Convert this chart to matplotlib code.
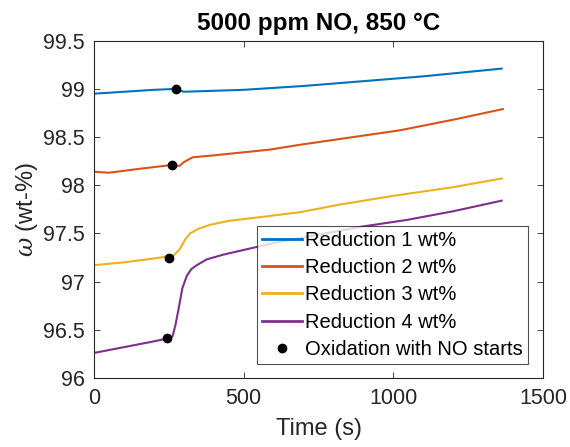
import matplotlib
matplotlib.use("Agg")
import matplotlib.pyplot as plt

plt.rcParams["font.family"] = ["Liberation Sans", "DejaVu Sans"]
plt.rcParams["mathtext.fontset"] = "dejavuserif"

# mass fraction (wt-%) vs time (s) for each reduction level
t1 = [0, 100, 200, 274, 290, 300, 400, 500, 700, 900, 1100, 1362]
w1 = [98.95, 98.97, 98.99, 99.00, 98.98, 98.97, 98.98, 98.99, 99.03, 99.08, 99.13, 99.21]

t2 = [0, 50, 150, 260, 285, 300, 330, 400, 588, 688, 822, 1022, 1200, 1366]
w2 = [98.14, 98.13, 98.17, 98.21, 98.20, 98.24, 98.29, 98.31, 98.37, 98.42, 98.48, 98.57, 98.68, 98.79]

t3 = [0, 100, 200, 265, 285, 305, 321, 350, 388, 450, 531, 688, 822, 1000, 1200, 1362]
w3 = [97.17, 97.20, 97.24, 97.27, 97.33, 97.44, 97.50, 97.55, 97.59, 97.63, 97.66, 97.72, 97.80, 97.89, 97.98, 98.07]

t4 = [0, 100, 200, 245, 262, 272, 282, 295, 310, 325, 343, 376, 432, 488, 600, 894, 1045, 1200, 1362]
w4 = [96.26, 96.32, 96.38, 96.41, 96.43, 96.55, 96.71, 96.93, 97.06, 97.13, 97.17, 97.23, 97.28, 97.32, 97.40, 97.57, 97.64, 97.73, 97.84]

# start of NO oxidation on each curve
t_ox = [274, 260, 252, 245]
w_ox = [99.00, 98.21, 97.24, 96.41]

labels = ["Reduction 1 wt%", "Reduction 2 wt%", "Reduction 3 wt%", "Reduction 4 wt%"]
colors = ["#0072BD", "#D95319", "#EDB120", "#7E2F8E"]
series = [(t1, w1), (t2, w2), (t3, w3), (t4, w4)]

axis_color = "#262626"

fig = plt.figure(figsize=(5.7, 4.47), dpi=100)
ax = fig.add_axes([0.165, 0.1544, 0.7876, 0.7546])

for (t, w), c, lab in zip(series, colors, labels):
    ax.plot(t, w, color=c, linewidth=1.5, label=lab)
ax.plot(t_ox, w_ox, "o", color="black", markersize=6, linestyle="none",
        label="Oxidation with NO starts")

ax.set_xlim(0, 1500)
ax.set_ylim(96, 99.5)
ax.set_xticks([0, 500, 1000, 1500])
ax.set_yticks([96, 96.5, 97, 97.5, 98, 98.5, 99, 99.5])
ax.set_yticklabels(["96", "96.5", "97", "97.5", "98", "98.5", "99", "99.5"])

ax.tick_params(direction="in", top=True, right=True, length=4, width=0.6,
               colors=axis_color, labelsize=15.5)
ax.tick_params(axis="x", pad=7)
ax.tick_params(axis="y", pad=6.5)
for sp in ax.spines.values():
    sp.set_color(axis_color)
    sp.set_linewidth(0.8)

ax.set_title("5000 ppm NO, 850 °C", fontsize=17.5, fontweight="bold", pad=8)
ax.set_xlabel("Time (s)", fontsize=17, color=axis_color, labelpad=7)
ax.set_ylabel(r"$\omega$ (wt-%)", fontsize=17, color=axis_color, labelpad=2)

leg = ax.legend(loc="lower right", bbox_to_anchor=(0.967, 0.0415), fontsize=14.5,
                frameon=True, fancybox=False, edgecolor=axis_color,
                handlelength=2.0, handletextpad=0.15, labelspacing=0.41,
                borderpad=0.25, borderaxespad=0)
leg.get_frame().set_linewidth(0.8)
for line in leg.get_lines()[:4]:
    line.set_linewidth(2)

fig.savefig("out.png", dpi=100)
